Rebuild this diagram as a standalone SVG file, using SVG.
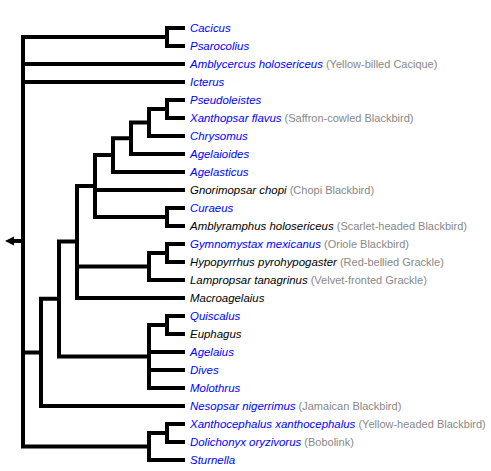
<svg xmlns="http://www.w3.org/2000/svg" width="491" height="471" viewBox="0 0 491 471">
<style>
.e{fill:none;stroke:#000;stroke-width:4;stroke-linejoin:miter;stroke-linecap:butt}
text{font-family:"Liberation Sans",Arial,sans-serif;font-size:11.45px;font-style:italic}
.b{fill:#0000ff}
.k{fill:#000}
.c{fill:#888;font-style:normal;font-size:11px}
</style>
<rect width="491" height="471" fill="#fff"/>
<g id="connectors">
<path class="e" d="M167,37 H23 V446.5 H149"/>
<path class="e" d="M185,28 H167 V46 H185"/>
<path class="e" d="M23,64 H185"/>
<path class="e" d="M23,82 H185"/>
<path class="e" d="M23,352.5 H41"/>
<path class="e" d="M59,298.75 H41 V406 H185"/>
<path class="e" d="M77,241.5 H59 V356.5 H149"/>
<path class="e" d="M95,186 H77 V298 H185"/>
<path class="e" d="M77,266.5 H149"/>
<path class="e" d="M113,155 H95 V217 H167"/>
<path class="e" d="M95,190 H185"/>
<path class="e" d="M131,138.25 H113 V172 H185"/>
<path class="e" d="M149,122.5 H131 V154 H185"/>
<path class="e" d="M167,109 H149 V136 H185"/>
<path class="e" d="M185,100 H167 V118 H185"/>
<path class="e" d="M185,208 H167 V226 H185"/>
<path class="e" d="M185,244 H167 V262 H185"/>
<path class="e" d="M167,253 H149 V280 H185"/>
<path class="e" d="M185,316 H167 V334 H185"/>
<path class="e" d="M167,325 H149 V388 H185"/>
<path class="e" d="M149,352 H185"/>
<path class="e" d="M149,370 H185"/>
<path class="e" d="M185,424 H167 V442 H185"/>
<path class="e" d="M167,433 H149 V460 H185"/>
<path class="e" d="M23,241 H14"/>
<polygon points="14,236.5 14,245.5 5,241" fill="#000"/>
</g>
<g id="n-cacicus"><text x="190" y="32" class="b">Cacicus</text></g>
<g id="n-psarocolius"><text x="190" y="50" class="b">Psarocolius</text></g>
<g id="n-amblycercus"><text x="190" y="68"><tspan class="b">Amblycercus holosericeus</tspan><tspan class="c"> (Yellow-billed Cacique)</tspan></text></g>
<g id="n-icterus"><text x="190" y="86" class="b">Icterus</text></g>
<g id="n-pseudoleistes"><text x="190" y="104" class="b">Pseudoleistes</text></g>
<g id="n-xanthopsar"><text x="190" y="122"><tspan class="b">Xanthopsar flavus</tspan><tspan class="c"> (Saffron-cowled Blackbird)</tspan></text></g>
<g id="n-chrysomus"><text x="190" y="140" class="b">Chrysomus</text></g>
<g id="n-agelaioides"><text x="190" y="158" class="b">Agelaioides</text></g>
<g id="n-agelasticus"><text x="190" y="176" class="b">Agelasticus</text></g>
<g id="n-gnorimopsar"><text x="190" y="194"><tspan class="k">Gnorimopsar chopi</tspan><tspan class="c"> (Chopi Blackbird)</tspan></text></g>
<g id="n-curaeus"><text x="190" y="212" class="b">Curaeus</text></g>
<g id="n-amblyramphus"><text x="190" y="230"><tspan class="k">Amblyramphus holosericeus</tspan><tspan class="c"> (Scarlet-headed Blackbird)</tspan></text></g>
<g id="n-gymnomystax"><text x="190" y="248"><tspan class="b">Gymnomystax mexicanus</tspan><tspan class="c"> (Oriole Blackbird)</tspan></text></g>
<g id="n-hypopyrrhus"><text x="190" y="266"><tspan class="k">Hypopyrrhus pyrohypogaster</tspan><tspan class="c"> (Red-bellied Grackle)</tspan></text></g>
<g id="n-lampropsar"><text x="190" y="284"><tspan class="k">Lampropsar tanagrinus</tspan><tspan class="c"> (Velvet-fronted Grackle)</tspan></text></g>
<g id="n-macroagelaius"><text x="190" y="302" class="k">Macroagelaius</text></g>
<g id="n-quiscalus"><text x="190" y="320" class="b">Quiscalus</text></g>
<g id="n-euphagus"><text x="190" y="338" class="k">Euphagus</text></g>
<g id="n-agelaius"><text x="190" y="356" class="b">Agelaius</text></g>
<g id="n-dives"><text x="190" y="374" class="b">Dives</text></g>
<g id="n-molothrus"><text x="190" y="392" class="b">Molothrus</text></g>
<g id="n-nesopsar"><text x="190" y="410"><tspan class="b">Nesopsar nigerrimus</tspan><tspan class="c"> (Jamaican Blackbird)</tspan></text></g>
<g id="n-xanthocephalus"><text x="190" y="428"><tspan class="b">Xanthocephalus xanthocephalus</tspan><tspan class="c"> (Yellow-headed Blackbird)</tspan></text></g>
<g id="n-dolichonyx"><text x="190" y="446"><tspan class="b">Dolichonyx oryzivorus</tspan><tspan class="c"> (Bobolink)</tspan></text></g>
<g id="n-sturnella"><text x="190" y="464" class="b">Sturnella</text></g>
</svg>
